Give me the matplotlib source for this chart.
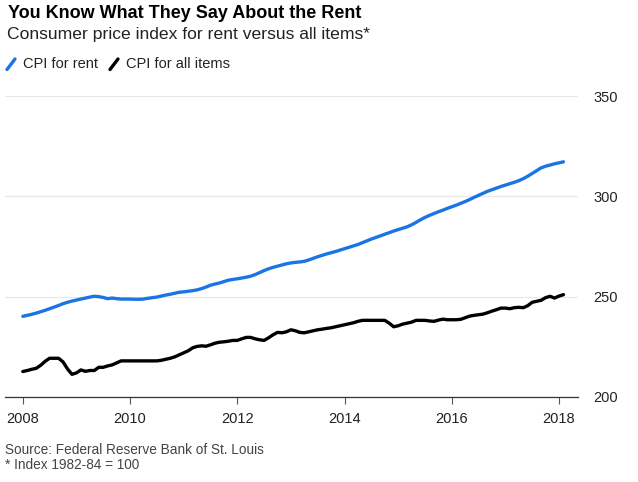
import numpy as np
import pandas as pd
import matplotlib
matplotlib.use('Agg')
import matplotlib.pyplot as plt
from matplotlib.lines import Line2D

plt.rcParams['font.family'] = ['Liberation Sans', 'DejaVu Sans']

# monthly, Jan 2008 .. Feb 2018
dates = pd.date_range('2008-01-01', '2018-02-01', freq='MS')

cpi_rent = [
    240.2, 240.7, 241.2, 241.8, 242.5, 243.2, 244.0, 244.8, 245.6, 246.5, 247.2, 247.8,  # 2008
    248.3, 248.8, 249.3, 249.8, 250.2, 250.0, 249.6, 249.0, 249.3, 249.0, 248.8, 248.8,  # 2009
    248.8, 248.7, 248.7, 248.8, 249.2, 249.5, 249.8, 250.3, 250.8, 251.2, 251.7, 252.2,  # 2010
    252.4, 252.7, 253.0, 253.4, 254.0, 254.8, 255.7, 256.3, 256.8, 257.5, 258.2, 258.6,  # 2011
    258.9, 259.3, 259.7, 260.2, 261.0, 262.0, 263.0, 263.9, 264.6, 265.2, 265.8, 266.4,  # 2012
    266.8, 267.1, 267.3, 267.6, 268.3, 269.1, 269.9, 270.6, 271.3, 271.9, 272.5, 273.2,  # 2013
    273.9, 274.6, 275.3, 276.0, 276.9, 277.8, 278.7, 279.5, 280.3, 281.1, 281.9, 282.7,  # 2014
    283.4, 284.1, 284.8, 285.8, 287.0, 288.3, 289.5, 290.5, 291.4, 292.3, 293.1, 294.0,  # 2015
    294.8, 295.6, 296.5, 297.4, 298.4, 299.5, 300.5, 301.5, 302.5, 303.3, 304.1, 304.9,  # 2016
    305.6, 306.3, 307.0, 307.8, 308.8, 310.0, 311.4, 312.8, 314.2, 315.0, 315.6, 316.2,  # 2017
    316.7, 317.2,                                                                        # 2018
]

cpi_all = [
    212.7, 213.2, 213.8, 214.3, 215.8, 217.8, 219.3, 219.3, 219.3, 217.5, 214.0, 211.3,  # 2008
    212.0, 213.5, 212.8, 213.2, 213.2, 214.8, 214.8, 215.5, 216.0, 217.0, 218.0, 218.0,  # 2009
    218.0, 218.0, 218.0, 218.0, 218.0, 218.0, 218.0, 218.3, 218.8, 219.3, 220.0, 221.0,  # 2010
    222.0, 223.0, 224.5, 225.2, 225.5, 225.3, 226.0, 226.8, 227.3, 227.5, 227.8, 228.2,  # 2011
    228.2, 229.0, 229.7, 229.7, 229.0, 228.5, 228.2, 229.5, 231.0, 232.2, 232.0, 232.5,  # 2012
    233.5, 233.0, 232.2, 232.0, 232.5, 233.0, 233.5, 233.8, 234.2, 234.5, 235.0, 235.5,  # 2013
    236.0, 236.5, 237.0, 237.7, 238.2, 238.2, 238.2, 238.2, 238.2, 238.2, 236.8, 235.0,  # 2014
    235.5, 236.3, 236.8, 237.3, 238.2, 238.2, 238.2, 237.9, 237.7, 238.3, 238.8, 238.5,  # 2015
    238.5, 238.5, 238.7, 239.5, 240.3, 240.7, 241.0, 241.3, 242.0, 242.8, 243.5, 244.3,  # 2016
    244.3, 244.0, 244.5, 244.7, 244.5, 245.5, 247.2, 247.7, 248.2, 249.5, 250.2, 249.3,  # 2017
    250.3, 251.0,                                                                        # 2018
]

year_ticks = [2008, 2010, 2012, 2014, 2016, 2018]
y_ticks = [200, 250, 300, 350]

blue = '#1b74e4'

fig = plt.figure(figsize=(6.38, 4.82), dpi=100)
ax = fig.add_axes([5 / 638, 85 / 482, 573 / 638, 301 / 482])

x = dates.year + (dates.month - 1) / 12
ax.plot(x, cpi_rent, color=blue, lw=2.4, solid_capstyle='round', zorder=3)
ax.plot(x, cpi_all, color='black', lw=2.4, solid_capstyle='round', zorder=3)

ax.set_xlim(2008 - 17.8 / 53.6, 2008 + 555 / 53.6)
ax.set_ylim(200, 350)
ax.set_xticks(year_ticks)
ax.set_xticklabels([str(y) for y in year_ticks])
ax.set_yticks(y_ticks)
ax.yaxis.tick_right()
ax.grid(axis='y', color='#e8e8e8', lw=0.9)
ax.set_axisbelow(True)
for s in ['top', 'left', 'right']:
    ax.spines[s].set_visible(False)
ax.spines['bottom'].set_color('#333333')
ax.spines['bottom'].set_linewidth(0.9)
ax.tick_params(axis='x', length=5, width=0.8, color='#555555', labelsize=10.5,
               labelcolor='#222222', pad=6)
ax.tick_params(axis='y', length=0, labelsize=10.5, labelcolor='#222222', pad=11)

fig.text(8 / 638, 1 - 14 / 482, 'You Know What They Say About the Rent',
         fontsize=13, fontweight='bold', va='center', ha='left')
fig.text(7 / 638, 1 - 35 / 482, 'Consumer price index for rent versus all items*',
         fontsize=12.6, va='center', ha='left', color='#222222')

# legend
ly = 1 - 64 / 482
for x0, col, label in [(7, blue, 'CPI for rent'), (110, 'black', 'CPI for all items')]:
    fig.add_artist(Line2D([x0 / 638, (x0 + 8) / 638], [ly - 5.5 / 482, ly + 5 / 482],
                          color=col, lw=2.4, solid_capstyle='round'))
    fig.text((x0 + 16) / 638, ly, label, fontsize=10.5, va='center', ha='left',
             color='#222222')

fig.text(5 / 638, 1 - 450 / 482, 'Source: Federal Reserve Bank of St. Louis',
         fontsize=9.8, va='center', ha='left', color='#444444')
fig.text(5 / 638, 1 - 465 / 482, '* Index 1982-84 = 100',
         fontsize=9.8, va='center', ha='left', color='#444444')

fig.savefig('out.png', dpi=100)
